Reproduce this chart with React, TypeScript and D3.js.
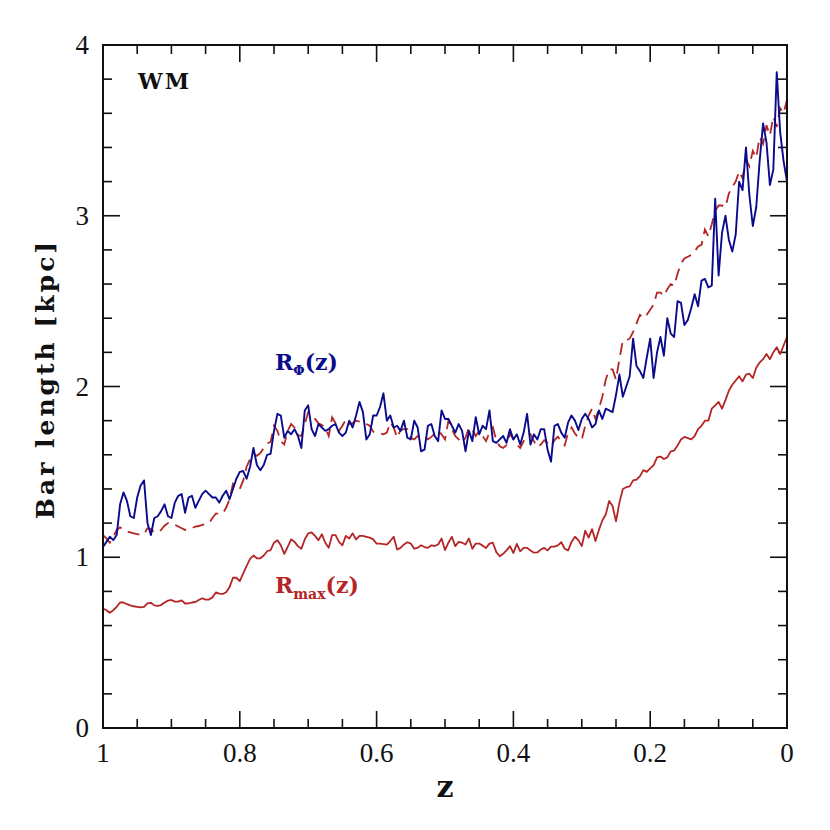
import React from "react";
import * as d3 from "d3";

// z grid: z_i = 1 - i * Z_STEP
const Z_START = 1;
const Z_STEP = 0.005;

// R_Phi(z) — blue solid
const rPhi = [
  1.06, 1.09, 1.12, 1.10, 1.13, 1.31, 1.38, 1.33, 1.24, 1.23,
  1.35, 1.42, 1.45, 1.20, 1.13, 1.23, 1.24, 1.27, 1.31, 1.24,
  1.23, 1.32, 1.36, 1.37, 1.26, 1.35, 1.36, 1.29, 1.33, 1.37,
  1.39, 1.37, 1.35, 1.35, 1.32, 1.36, 1.39, 1.34, 1.40, 1.46,
  1.50, 1.505, 1.46, 1.53, 1.64, 1.54, 1.51, 1.54, 1.60, 1.605,
  1.74, 1.84, 1.83, 1.70, 1.74, 1.72, 1.75, 1.71, 1.64, 1.86,
  1.89, 1.75, 1.71, 1.78, 1.76, 1.74, 1.75, 1.77, 1.78, 1.73,
  1.71, 1.73, 1.80, 1.76, 1.83, 1.91, 1.85, 1.69, 1.72, 1.83,
  1.83, 1.88, 1.96, 1.80, 1.83, 1.76, 1.77, 1.74, 1.80, 1.70,
  1.69, 1.80, 1.76, 1.62, 1.63, 1.77, 1.78, 1.71, 1.68, 1.86,
  1.81, 1.81, 1.77, 1.73, 1.78, 1.74, 1.62, 1.74, 1.68, 1.82,
  1.72, 1.77, 1.75, 1.86, 1.68, 1.67, 1.69, 1.71, 1.67, 1.75,
  1.69, 1.72, 1.66, 1.73, 1.84, 1.66, 1.72, 1.69, 1.75, 1.75,
  1.63, 1.56, 1.77, 1.78, 1.73, 1.70, 1.79, 1.83, 1.80, 1.745,
  1.81, 1.84, 1.81, 1.76, 1.78, 1.86, 1.81, 1.87, 1.86, 1.85,
  1.95, 2.07, 1.94, 2.00, 2.06, 2.28, 2.12, 2.09, 2.05, 2.17,
  2.28, 2.05, 2.20, 2.29, 2.18, 2.40, 2.31, 2.29, 2.50, 2.49,
  2.36, 2.39, 2.46, 2.54, 2.47, 2.62, 2.63, 2.58, 2.59, 3.10,
  2.65, 2.90, 3.00, 2.86, 2.79, 2.89, 3.20, 3.15, 3.40, 3.12,
  2.94, 3.05, 3.32, 3.54, 3.43, 3.18, 3.27, 3.84, 3.49, 3.32,
  3.20,
];

// dashed red
const rDashed = [
  1.13, 1.11, 1.085, 1.12, 1.16, 1.175, 1.16, 1.15, 1.145, 1.14,
  1.135, 1.13, 1.135, 1.17, 1.165, 1.145, 1.148, 1.16, 1.185, 1.20,
  1.20, 1.19, 1.18, 1.17, 1.16, 1.165, 1.17, 1.18, 1.183, 1.19,
  1.195, 1.20, 1.23, 1.256, 1.256, 1.256, 1.29, 1.34, 1.43, 1.41,
  1.40, 1.45, 1.53, 1.575, 1.60, 1.595, 1.61, 1.64, 1.667, 1.675,
  1.77, 1.74, 1.68, 1.66, 1.74, 1.78, 1.76, 1.715, 1.71, 1.78,
  1.85, 1.83, 1.81, 1.785, 1.775, 1.76, 1.71, 1.82, 1.785, 1.74,
  1.77, 1.805, 1.78, 1.785, 1.80, 1.795, 1.79, 1.78, 1.77, 1.735,
  1.73, 1.725, 1.72, 1.73, 1.79, 1.76, 1.70, 1.745, 1.75, 1.75,
  1.70, 1.69, 1.71, 1.713, 1.71, 1.69, 1.705, 1.725, 1.74, 1.72,
  1.69, 1.80, 1.75, 1.71, 1.69, 1.67, 1.70, 1.76, 1.745, 1.71,
  1.74, 1.71, 1.68, 1.73, 1.76, 1.685, 1.65, 1.64, 1.657, 1.725,
  1.69, 1.66, 1.64, 1.68, 1.71, 1.72, 1.68, 1.645, 1.66, 1.685,
  1.67, 1.65, 1.685, 1.706, 1.68, 1.655, 1.73, 1.76, 1.725, 1.70,
  1.69, 1.77, 1.83, 1.87, 1.81, 1.87, 1.94, 2.04, 2.10, 2.10,
  2.04, 2.16, 2.27, 2.27, 2.28, 2.32, 2.37, 2.42, 2.40, 2.42,
  2.45, 2.48, 2.55, 2.55, 2.53, 2.57, 2.60, 2.59, 2.66, 2.72,
  2.75, 2.76, 2.77, 2.79, 2.82, 2.83, 2.92, 2.88, 2.95, 3.03,
  3.06, 3.06, 3.05, 3.13, 3.17, 3.20, 3.26, 3.22, 3.33, 3.29,
  3.38, 3.34, 3.46, 3.42, 3.53, 3.47, 3.58, 3.52, 3.63, 3.60,
  3.68,
];

// R_max(z) — red solid
const rMax = [
  0.70, 0.69, 0.675, 0.69, 0.71, 0.735, 0.735, 0.725, 0.718, 0.713,
  0.71, 0.707, 0.71, 0.73, 0.733, 0.718, 0.715, 0.72, 0.735, 0.746,
  0.75, 0.74, 0.74, 0.747, 0.729, 0.73, 0.735, 0.738, 0.75, 0.76,
  0.752, 0.752, 0.765, 0.794, 0.787, 0.785, 0.795, 0.825, 0.88, 0.88,
  0.86, 0.905, 0.95, 0.99, 1.01, 0.994, 0.994, 1.01, 1.035, 1.042,
  1.085, 1.10, 1.07, 1.02, 1.06, 1.105, 1.09, 1.065, 1.05, 1.105,
  1.14, 1.145, 1.125, 1.10, 1.135, 1.085, 1.055, 1.13, 1.13, 1.09,
  1.07, 1.125, 1.11, 1.14, 1.104, 1.125, 1.125, 1.12, 1.115, 1.105,
  1.08, 1.08, 1.077, 1.074, 1.095, 1.12, 1.045, 1.055, 1.075, 1.088,
  1.08, 1.05, 1.055, 1.07, 1.06, 1.055, 1.07, 1.066, 1.075, 1.11,
  1.042, 1.085, 1.12, 1.065, 1.09, 1.085, 1.075, 1.11, 1.05, 1.08,
  1.08, 1.068, 1.054, 1.08, 1.085, 1.03, 1.006, 1.02, 1.04, 1.065,
  1.025, 1.078, 1.035, 1.055, 1.055, 1.04, 1.027, 1.028, 1.045, 1.055,
  1.04, 1.062, 1.062, 1.07, 1.088, 1.05, 1.04, 1.09, 1.12, 1.10,
  1.065, 1.155, 1.115, 1.165, 1.095, 1.16, 1.215, 1.25, 1.33, 1.30,
  1.21, 1.32, 1.40, 1.41, 1.415, 1.45, 1.455, 1.475, 1.51, 1.50,
  1.52, 1.54, 1.585, 1.59, 1.575, 1.585, 1.62, 1.625, 1.655, 1.69,
  1.705, 1.698, 1.69, 1.71, 1.75, 1.77, 1.80, 1.80, 1.87, 1.89,
  1.91, 1.87, 1.92, 1.975, 2.01, 2.035, 2.06, 2.03, 2.07, 2.075,
  2.05, 2.11, 2.14, 2.16, 2.19, 2.16, 2.20, 2.23, 2.19, 2.24,
  2.29,
];

const xMajorTicks = [1, 0.8, 0.6, 0.4, 0.2, 0];
const xTickLabels = ["1", "0.8", "0.6", "0.4", "0.2", "0"];
const yMajorTicks = [0, 1, 2, 3, 4];
const yTickLabels = ["0", "1", "2", "3", "4"];

const BLUE = "#0a0a8c";
const RED = "#b52525";

export default function App() {
  const W = 830, H = 830;
  const L = 103, R = 787, T = 45, B = 728;
  const x = d3.scaleLinear().domain([1, 0]).range([L, R]);
  const y = d3.scaleLinear().domain([0, 4]).range([B, T]);
  const toPts = (arr: number[]) => arr.map((v, i) => [Z_START - i * Z_STEP, v] as [number, number]);
  const line = d3.line<[number, number]>().x((d) => x(d[0])).y((d) => y(d[1]));

  const xMinor = d3.range(0, 21).map((k) => k * 0.05).filter((v) => Math.abs(v * 5 - Math.round(v * 5)) > 1e-6);
  const yMinor = d3.range(0, 21).map((k) => k * 0.2).filter((v) => Math.abs(v - Math.round(v)) > 1e-6);
  const MAJ = 17, MIN = 9;
  const tickStyle = { stroke: "#111", strokeWidth: 1.6 };

  return (
    <svg width={W} height={H} style={{ position: "absolute", left: 0, top: 0, background: "#fff" }}>
      <rect x={0} y={0} width={W} height={H} fill="#fff" />
      <g>
        {xMajorTicks.map((v) => (
          <g key={"xm" + v}>
            <line x1={x(v)} x2={x(v)} y1={B} y2={B - MAJ} {...tickStyle} />
            <line x1={x(v)} x2={x(v)} y1={T} y2={T + MAJ} {...tickStyle} />
          </g>
        ))}
        {xMinor.map((v) => (
          <g key={"xn" + v}>
            <line x1={x(v)} x2={x(v)} y1={B} y2={B - MIN} {...tickStyle} />
            <line x1={x(v)} x2={x(v)} y1={T} y2={T + MIN} {...tickStyle} />
          </g>
        ))}
        {yMajorTicks.map((v) => (
          <g key={"ym" + v}>
            <line x1={L} x2={L + MAJ} y1={y(v)} y2={y(v)} {...tickStyle} />
            <line x1={R} x2={R - MAJ} y1={y(v)} y2={y(v)} {...tickStyle} />
          </g>
        ))}
        {yMinor.map((v) => (
          <g key={"yn" + v}>
            <line x1={L} x2={L + MIN} y1={y(v)} y2={y(v)} {...tickStyle} />
            <line x1={R} x2={R - MIN} y1={y(v)} y2={y(v)} {...tickStyle} />
          </g>
        ))}
      </g>
      <path d={line(toPts(rMax)) || ""} fill="none" stroke={RED} strokeWidth={1.8} strokeLinejoin="round" />
      <path d={line(toPts(rDashed)) || ""} fill="none" stroke={RED} strokeWidth={1.8} strokeDasharray="12,7" />
      <path d={line(toPts(rPhi)) || ""} fill="none" stroke={BLUE} strokeWidth={1.9} strokeLinejoin="round" />
      <rect x={L} y={T} width={R - L} height={B - T} fill="none" stroke="#111" strokeWidth={2} />
      <g fontFamily="'Liberation Serif', serif" fontSize={27} fill="#111">
        {xMajorTicks.map((v, i) => (
          <text key={"xl" + v} x={x(v)} y={B + 34} textAnchor="middle">{xTickLabels[i]}</text>
        ))}
        {yMajorTicks.map((v, i) => (
          <text key={"yl" + v} x={L - 14} y={y(v) + 9} textAnchor="end">{yTickLabels[i]}</text>
        ))}
      </g>
      <text x={(L + R) / 2} y={797} textAnchor="middle" fontFamily="'DejaVu Serif', serif" fontWeight="bold" fontSize={30} fill="#111">z</text>
      <text transform="translate(54, 379) rotate(-90)" textAnchor="middle" fontFamily="'DejaVu Serif', serif" fontWeight="bold" fontSize={25} letterSpacing={3} fill="#111">Bar length [kpc]</text>
      <text x={138} y={89} fontFamily="'DejaVu Serif', serif" fontWeight="bold" fontSize={22} letterSpacing={2} fill="#111">WM</text>
      <text x={275} y={370} fontFamily="'DejaVu Serif', serif" fontWeight="bold" fontSize={22} fill={BLUE}>
        R<tspan fontSize={13} dy={5}>Φ</tspan><tspan dy={-5}>(z)</tspan>
      </text>
      <text x={275} y={593} fontFamily="'DejaVu Serif', serif" fontWeight="bold" fontSize={22} fill={RED}>
        R<tspan fontSize={14} dy={6}>max</tspan><tspan dy={-6}>(z)</tspan>
      </text>
    </svg>
  );
}
